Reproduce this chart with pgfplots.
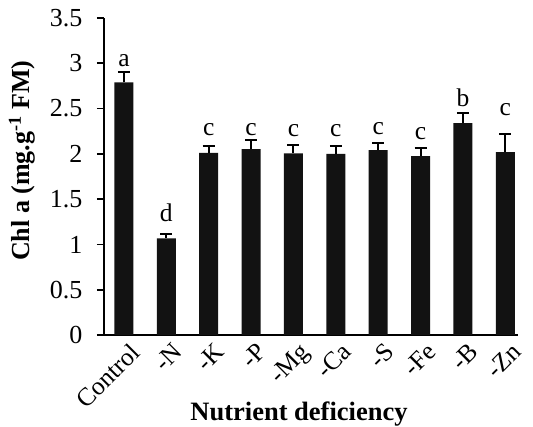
\documentclass[border=0pt]{standalone}
\usepackage{pgfplots}
\pgfplotsset{compat=1.18}
\usepackage{pgfplotstable}
\usepackage{fontspec}
\setmainfont{Liberation Serif}
\pgfplotstableread{
x y err ly lab
0 2.79 0.11 2.961 a
1 1.067 0.044 1.25 d
2 2.01 0.08 2.208 c
3 2.053 0.097 2.208 c
4 2.005 0.092 2.189 c
5 2.00 0.092 2.189 c
6 2.04 0.08 2.219 c
7 1.976 0.088 2.160 c
8 2.34 0.11 2.52 b
9 2.02 0.20 2.428 c
}\datatable
\begin{document}
\begin{tikzpicture}
\useasboundingbox (-104pt,-91pt) rectangle (429pt,335pt);
\begin{axis}[
  at={(0,0)}, anchor=south west,
  scale only axis, width=414pt, height=317pt,
  xmin=-0.47, xmax=9.3, ymin=0, ymax=3.5,
  axis x line*=bottom, axis y line*=left,
  axis line style={line width=1.6pt, black},
  ytick={0,0.5,1,1.5,2,2.5,3,3.5},
  yticklabels={0,0.5,1,1.5,2,2.5,3,3.5},
  xtick={0,...,9},
  xticklabels={Control,-N,-K,-P,-Mg,-Ca,-S,-Fe,-B,-Zn},
  tick align=outside,
  major tick length=7pt,
  major y tick style={line width=1.6pt, black},
  major x tick style={draw=none},
  /pgf/number format/assume math mode=true,
  y tick label style={font=\fontsize{26}{30}\selectfont, anchor=east, xshift=-11pt},
  x tick label style={font=\fontsize{25.5}{29}\selectfont, rotate=45, anchor=north east, inner sep=1pt, xshift=5pt, yshift=-2pt},
  xlabel={\textbf{Nutrient deficiency}},
  ylabel={\textbf{Chl a (mg.g\textsuperscript{-1} FM)}},
  every axis x label/.style={at={([yshift=-85pt]axis description cs:0.471,0)}, anchor=base, font=\fontsize{26.5}{30}\selectfont},
  every axis y label/.style={at={([xshift=-74pt]axis description cs:0,0.55)}, rotate=90, anchor=base, font=\fontsize{26}{30}\selectfont},
  clip=false,
]
\addplot[ybar, bar width=19pt, fill=black!93, draw=none,
  error bars/.cd, y dir=plus, y explicit,
  error bar style={line width=2pt, draw=black},
  error mark options={rotate=90, mark size=6pt, line width=2pt, draw=black}]
  table[x=x, y=y, y error=err] {\datatable};
\addplot[draw=none, mark=none, nodes near coords, point meta=explicit symbolic,
  every node near coord/.style={anchor=base, inner sep=0pt, font=\fontsize{25.5}{29}\selectfont, text=black}]
  table[x=x, y=ly, meta=lab] {\datatable};
\end{axis}
\end{tikzpicture}
\end{document}
